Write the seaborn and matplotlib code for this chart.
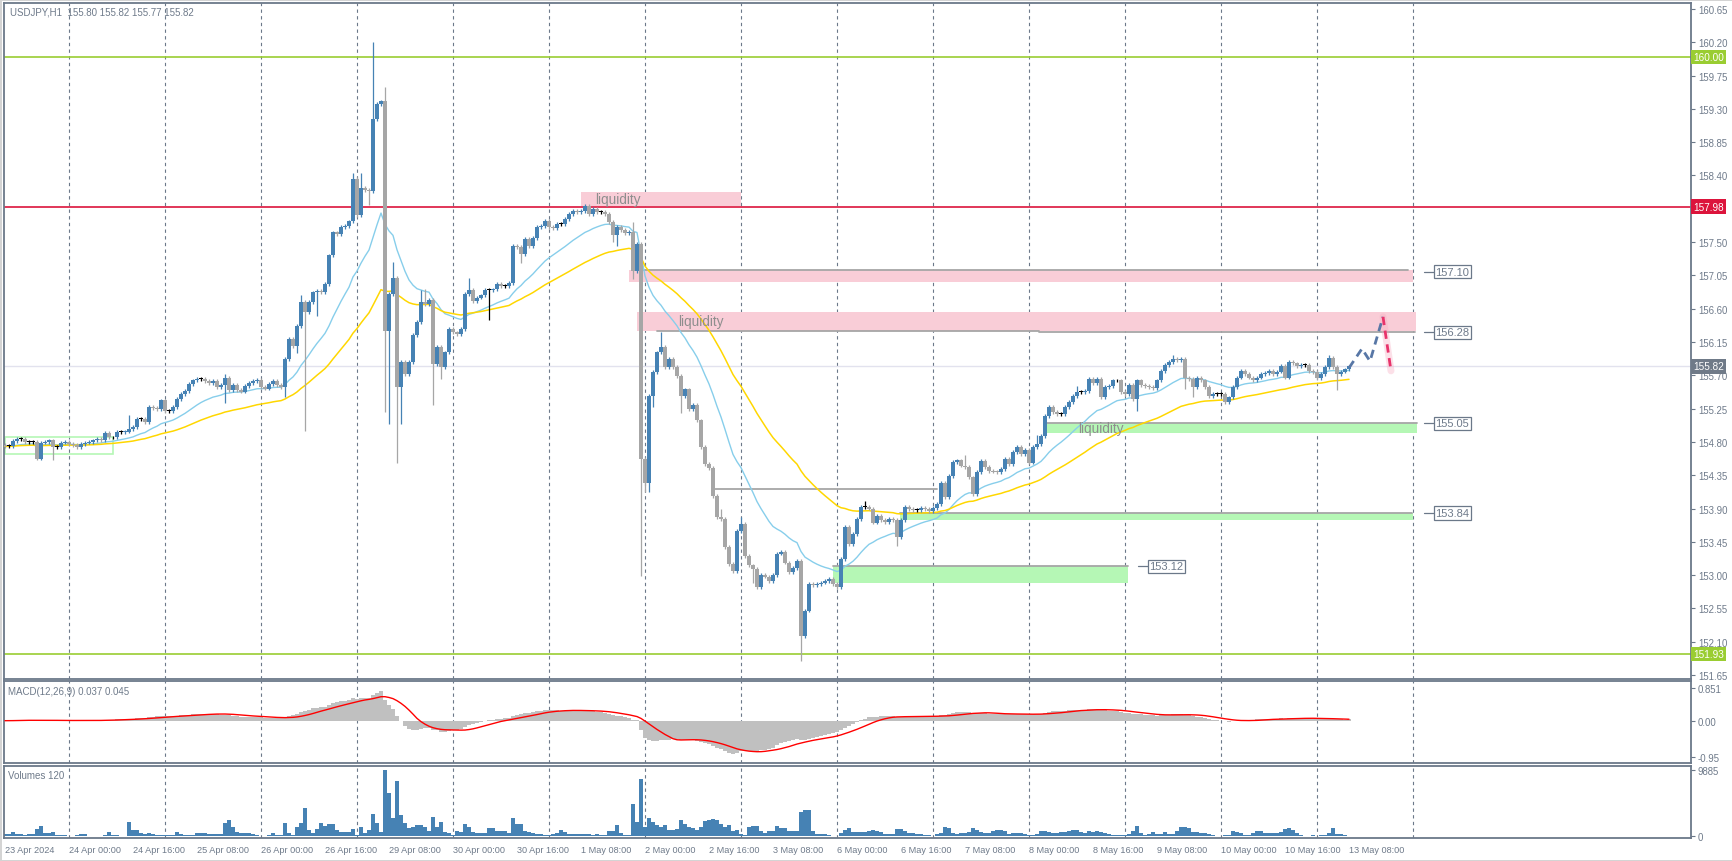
import numpy as np
import pandas as pd
import matplotlib
matplotlib.use("Agg")
import matplotlib.pyplot as plt
import matplotlib.transforms as mtrans
from matplotlib.patches import Rectangle
import seaborn as sns

sns.set_style("white")
plt.rcParams['font.family'] = ['Liberation Sans', 'DejaVu Sans']

# hourly closes USDJPY, 23 Apr 08:00 .. 13 May 08:00
first_open = 154.76
closes = [
    154.74, 154.74, 154.81, 154.84, 154.84, 154.80, 154.80, 154.80, 154.57, 154.79,
    154.80, 154.82, 154.73, 154.73, 154.79, 154.80, 154.77, 154.76, 154.73, 154.77,
    154.79, 154.80, 154.82, 154.84, 154.83, 154.92, 154.86, 154.86, 154.93, 154.93,
    154.94, 154.97, 155.00, 155.11, 155.11, 155.07, 155.27, 155.26, 155.24, 155.36,
    155.22, 155.22, 155.27, 155.38, 155.45, 155.49, 155.58, 155.63, 155.65, 155.65,
    155.62, 155.60, 155.62, 155.54, 155.57, 155.67, 155.50, 155.57, 155.50, 155.48,
    155.56, 155.60, 155.62, 155.64, 155.54, 155.52, 155.58, 155.62, 155.57, 155.54,
    155.92, 156.19, 156.10, 156.37, 156.69, 156.55, 156.69, 156.82, 156.84, 156.82,
    156.93, 157.32, 157.63, 157.61, 157.70, 157.72, 157.78, 158.35, 157.86, 158.23,
    158.20, 158.19, 159.16, 159.37, 159.40, 156.30, 156.80, 157.02, 155.54, 155.88,
    155.72, 155.88, 156.24, 156.42, 156.69, 156.66, 156.72, 155.85, 156.08, 155.81,
    156.01, 156.33, 156.28, 156.26, 156.33, 156.80, 156.85, 156.70, 156.75, 156.78,
    156.85, 156.85, 156.86, 156.93, 156.91, 156.91, 156.95, 157.45, 157.43, 157.34,
    157.54, 157.45, 157.56, 157.70, 157.72, 157.79, 157.70, 157.69, 157.74, 157.74,
    157.81, 157.88, 157.92, 157.90, 157.92, 157.99, 157.88, 157.95, 157.91, 157.91,
    157.88, 157.77, 157.59, 157.70, 157.66, 157.62, 157.64, 157.11, 157.47, 154.57,
    154.25, 155.42, 155.74, 156.01, 156.08, 155.81, 155.92, 155.81, 155.69, 155.42,
    155.51, 155.24, 155.30, 155.09, 154.73, 154.50, 154.45, 154.07, 153.78, 153.76,
    153.38, 153.15, 153.06, 153.60, 153.69, 153.26, 153.13, 153.08, 152.84, 153.00,
    152.98, 152.92, 153.00, 153.29, 153.31, 153.17, 153.04, 153.10, 153.19, 152.18,
    152.52, 152.88, 152.86, 152.88, 152.90, 152.92, 152.95, 152.88, 152.84, 153.22,
    153.65, 153.42, 153.56, 153.76, 153.92, 153.92, 153.90, 153.71, 153.80, 153.74,
    153.72, 153.76, 153.74, 153.51, 153.74, 153.92, 153.89, 153.88, 153.88, 153.91,
    153.89, 153.87, 153.91, 153.96, 154.25, 154.05, 154.34, 154.53, 154.55, 154.48,
    154.46, 154.32, 154.10, 154.39, 154.54, 154.46, 154.41, 154.40, 154.39, 154.43,
    154.57, 154.50, 154.66, 154.73, 154.64, 154.69, 154.52, 154.73, 154.77, 154.88,
    155.15, 155.27, 155.20, 155.18, 155.18, 155.27, 155.34, 155.42, 155.47, 155.47,
    155.49, 155.65, 155.60, 155.65, 155.40, 155.54, 155.56, 155.63, 155.63, 155.47,
    155.45, 155.57, 155.38, 155.63, 155.57, 155.56, 155.54, 155.53, 155.63, 155.76,
    155.84, 155.88, 155.92, 155.90, 155.92, 155.67, 155.65, 155.54, 155.67, 155.63,
    155.54, 155.42, 155.45, 155.45, 155.45, 155.34, 155.40, 155.54, 155.67, 155.76,
    155.72, 155.67, 155.64, 155.67, 155.72, 155.73, 155.76, 155.72, 155.75, 155.83,
    155.67, 155.88, 155.86, 155.83, 155.84, 155.84, 155.76, 155.74, 155.66, 155.72,
    155.81, 155.93, 155.81, 155.72, 155.75, 155.78, 155.82,
]

# long wicks visible on the chart (bar index -> price)
wick_highs = {31: 155.16, 55: 155.72, 74: 156.78, 87: 158.43, 89: 158.43, 92: 160.20,
              95: 159.59, 97: 157.23, 104: 156.85, 105: 156.86, 116: 157.02, 157: 157.77,
              164: 156.28, 179: 153.90, 184: 153.78, 215: 154.00, 240: 154.62, 258: 154.90,
              268: 155.56, 292: 155.97, 331: 155.97}
wick_lows = {8: 154.55, 9: 154.55, 12: 154.56, 55: 155.33, 70: 155.40, 73: 156.00,
             75: 154.95, 78: 156.50, 91: 158.00, 95: 155.20, 96: 155.04, 98: 154.52,
             99: 155.04, 107: 155.30, 109: 155.65, 121: 156.45, 129: 157.22, 152: 157.50,
             153: 157.45, 157: 157.00, 159: 152.99, 160: 154.12, 161: 154.12, 162: 155.27,
             169: 155.19, 187: 152.90, 199: 151.84, 223: 153.40, 283: 155.22, 295: 155.51,
             297: 155.40, 333: 155.50}

volumes = [
    350, 350, 650, 300, 350, 250, 300, 350, 1100, 1550, 500, 450, 650, 250, 250, 150, 100, 100,
    250, 350, 350, 100, 100, 100, 100, 250, 650, 250, 200, 100, 100, 2150, 950, 950, 500, 400,
    450, 300, 250, 250, 200, 150, 200, 650, 300, 200, 200, 200, 500, 500, 500, 300, 300, 300,
    350, 2000, 2450, 1350, 600, 500, 500, 500, 400, 200, 100, 100, 250, 550, 250, 250, 2000, 500,
    250, 1400, 2000, 4250, 950, 550, 1100, 2000, 1600, 1850, 1850, 950, 600, 600, 700, 1100, 250,
    1450, 500, 900, 3350, 2000, 600, 9885, 6500, 2700, 8250, 3250, 2000, 1250, 1350, 1700, 1700,
    1350, 750, 2900, 1350, 2150, 700, 500, 200, 800, 600, 1850, 1450, 650, 500, 500, 550, 1250,
    1250, 800, 800, 800, 500, 2750, 1850, 1850, 800, 600, 450, 400, 300, 200, 200, 400, 500, 950,
    600, 300, 300, 300, 300, 350, 350, 250, 300, 200, 200, 800, 800, 1700, 500, 250, 250, 4850,
    2150, 8600, 1400, 2700, 2100, 1750, 1350, 1750, 950, 950, 1100, 2450, 1850, 1400, 1300, 900,
    1400, 2250, 2450, 2550, 2400, 1850, 1450, 1700, 850, 900, 350, 250, 1450, 1550, 1550, 850,
    500, 750, 750, 1550, 1250, 1250, 800, 800, 800, 3600, 3950, 3850, 750, 350, 350, 350, 250,
    100, 100, 500, 950, 1200, 700, 650, 650, 650, 750, 950, 800, 700, 400, 400, 400, 1050, 1050,
    800, 550, 550, 400, 350, 250, 200, 50, 350, 550, 1400, 1300, 500, 350, 500, 500, 700, 1200,
    1000, 600, 500, 550, 800, 950, 950, 800, 400, 500, 450, 500, 400, 250, 150, 400, 800, 800,
    650, 550, 550, 600, 650, 750, 950, 950, 650, 450, 800, 650, 800, 700, 450, 350, 250, 200,
    250, 200, 300, 750, 1600, 450, 200, 350, 600, 400, 350, 600, 400, 400, 750, 1350, 1350, 1200,
    700, 600, 550, 500, 300, 200, 100, 100, 250, 250, 750, 650, 500, 250, 250, 550, 750, 750,
    500, 500, 500, 500, 650, 1100, 1250, 1000, 500, 250, 100, 100, 150, 100, 250, 250, 450,
    1200, 400, 350, 250, 50,
]

date_ticks = [0, 16, 32, 48, 64, 80, 96, 112, 128, 144, 160, 176, 192, 208, 224, 240, 256,
              272, 288, 304, 320, 336]
date_labels = ["23 Apr 2024", "24 Apr 00:00", "24 Apr 16:00", "25 Apr 08:00", "26 Apr 00:00",
               "26 Apr 16:00", "29 Apr 08:00", "30 Apr 00:00", "30 Apr 16:00", "1 May 08:00",
               "2 May 00:00", "2 May 16:00", "3 May 08:00", "6 May 00:00", "6 May 16:00",
               "7 May 08:00", "8 May 00:00", "8 May 16:00", "9 May 08:00", "10 May 00:00",
               "10 May 16:00", "13 May 08:00"]
day_starts = [16, 40, 64, 88, 112, 136, 160, 184, 208, 232, 256, 280, 304, 328, 352]

price_ticks = [151.65, 152.10, 152.55, 153.00, 153.45, 153.90, 154.35, 154.80, 155.25, 155.70,
               156.15, 156.60, 157.05, 157.50, 157.95, 158.40, 158.85, 159.30, 159.75, 160.20,
               160.65]

# drawn objects
pink = "#F9CDD7"
lgreen = "#B5F7B5"
zones = [  # first bar, last bar, low, high, colour, text, text bar
    (144.0, 184.0, 157.99, 158.18, pink, "liquidity", 147.5),
    (156.0, 352.0, 156.96, 157.12, pink, None, None),
    (158.0, 352.75, 156.30, 156.56, pink, "liquidity", 168.2),
    (260.25, 353.0, 154.92, 155.05, lgreen, "liquidity", 268.2),
    (223.75, 352.0, 153.74, 153.84, lgreen, None, None),
    (207.0, 280.75, 152.89, 153.12, lgreen, None, None),
]
grey_segments = [  # first bar, last bar, price
    (158.75, 350.75, 157.12), (163.0, 258.5, 156.30), (258.5, 352.5, 156.28),
    (260.25, 353.0, 155.05), (223.75, 351.75, 153.84), (207.0, 280.75, 153.12),
    (177.5, 233.0, 154.16),
]
tag_levels = [157.10, 156.28, 155.05, 153.84, 153.12]
tag_bars = [354.75, 354.75, 354.75, 354.75, 283.25]
pred_bars = [336, 339.25, 341.25, 344.5]
pred_prices = [155.80, 156.06, 155.89, 156.49]
drop_bars = [344.5, 346.5]
drop_prices = [156.49, 155.76]

# ---- frame ----
n = len(closes)
df = pd.DataFrame({"bar": np.arange(n), "close": closes, "volume": volumes})
df["open"] = [first_open] + closes[:-1]
df["ema20"] = df["close"].ewm(span=20, adjust=False).mean()
df["ema50"] = df["close"].ewm(span=50, adjust=False).mean()
df["macd"] = (df["close"].ewm(span=12, adjust=False).mean()
              - df["close"].ewm(span=26, adjust=False).mean())
df["signal"] = df["macd"].rolling(9, min_periods=1).mean()

W, H = 1733, 862
fig = plt.figure(figsize=(W / 100, H / 100), dpi=100)
fig.patch.set_edgecolor("#D4D4D4")
fig.patch.set_linewidth(2)


def pax(x0, y0, x1, y1):
    return fig.add_axes([x0 / W, 1 - y1 / H, (x1 - x0) / W, (y1 - y0) / H])


ax = pax(4, 4, 1691, 680)
axm = pax(4, 682, 1691, 764)
axv = pax(4, 767, 1691, 839)

frame = "#6B7889"
txt = "#6E7A8A"
xlo, xhi = -0.25, 421.5
for a in (ax, axm, axv):
    a.set_xlim(xlo, xhi)
    for s in a.spines.values():
        s.set_color(frame)
        s.set_linewidth(1.3)
    a.yaxis.tick_right()
    a.tick_params(axis="y", colors=frame, labelcolor=txt, labelsize=6.9, length=3, pad=2, width=0.8)
    for d in day_starts:
        a.axvline(d, color=frame, lw=0.8, ls=(0, (3, 3)), zorder=0)

# ---- main price panel ----
ax.set_ylim(151.596, 160.731)
ax.set_yticks(price_ticks)
# 157.95 sits under the red 157.98 tag on the original
ax.set_yticklabels(["" if abs(p - 157.95) < 1e-6 else f"{p:.2f}" for p in price_ticks])
ax.set_xticks([])

ax.axhline(160.00, color="#9ACD32", lw=1.2, zorder=1)
ax.axhline(157.98, color="#DC143C", lw=1.2, zorder=1)
ax.axhline(151.93, color="#9ACD32", lw=1.2, zorder=1)
ax.axhline(closes[-1], color="#E2E2EE", lw=1.0, zorder=1)

for x0, x1, lo_, hi_, col_, label, tx in zones:
    ax.add_patch(Rectangle((x0, lo_), x1 - x0, hi_ - lo_, facecolor=col_, edgecolor="none", zorder=1))
    if label:
        ax.text(tx, (lo_ + hi_) / 2, label, color="#8E8E8E", fontsize=9.8,
                va="center", ha="left", zorder=6)
ax.add_patch(Rectangle((0, 154.64), 27, 0.23, facecolor="none", edgecolor=lgreen, lw=1.2, zorder=1))
for x0, x1, p in grey_segments:
    ax.plot([x0, x1], [p, p], color="#A6A6A6", lw=1.3, zorder=2)

for lvl, b in zip(tag_levels, tag_bars):
    ax.plot([b, b + 2.4], [lvl, lvl], color=frame, lw=0.9, zorder=6)
    ax.text(b + 2.8, lvl, f"{lvl:.2f}", fontsize=8, color=txt, va="center", ha="left", zorder=7,
            bbox=dict(boxstyle="square,pad=0.15", facecolor="white", edgecolor=frame, lw=0.9))

# moving averages
sns.lineplot(data=df, x="bar", y="ema20", ax=ax, color="#87CEEB", lw=1.0, zorder=3)
sns.lineplot(data=df, x="bar", y="ema50", ax=ax, color="#FFD700", lw=1.1, zorder=3)

# candles
stub = 0.025
o = df["open"].to_numpy()
c = df["close"].to_numpy()
top = np.maximum(o, c)
bot = np.minimum(o, c)
hi = np.array([wick_highs.get(i, top[i] + stub) for i in range(n)])
lo = np.array([wick_lows.get(i, bot[i] - stub) for i in range(n)])
doji = np.isclose(o, c)
col = np.where(c > o, "#4682B4", "#A6A6A6")
col = np.where(doji, "#000000", col)
ax.vlines(df["bar"], lo, hi, colors=col, lw=0.9, zorder=4)
ax.bar(df["bar"], np.maximum(top - bot, 0.012), bottom=bot, width=np.where(doji, 0.95, 0.78),
       color=col, linewidth=0, zorder=5)

# forecast path
ax.plot(drop_bars, drop_prices, color="#F7A8BF", lw=5, alpha=0.35, zorder=6, solid_capstyle="round")
ax.plot(pred_bars, pred_prices, color="#5877A6", lw=2.0, ls=(0, (3, 2)), zorder=7)
ax.plot(drop_bars, drop_prices, color="#E8336B", lw=2.0, ls=(0, (3, 2)), zorder=7)

ax.text(0.0036, 0.9877, "USDJPY,H1  155.80 155.82 155.77 155.82", transform=ax.transAxes,
        fontsize=7, color=txt, va="center", ha="left")

# right-axis price boxes
tr = mtrans.blended_transform_factory(ax.transAxes, ax.transData)
for lvl, bg in [(160.00, "#9ACD32"), (157.98, "#DC143C"), (closes[-1], "#6F7A88"), (151.93, "#9ACD32")]:
    ax.text(1.0012, lvl, f"{lvl:.2f}", transform=tr, fontsize=7.2, color="white", va="center",
            ha="left", zorder=10, clip_on=False,
            bbox=dict(boxstyle="square,pad=0.22", facecolor=bg, edgecolor="none"))
ax.set_xlabel("")
ax.set_ylabel("")

# ---- MACD panel ----
axm.set_ylim(-1.116, 1.047)
axm.bar(df["bar"], df["macd"], width=0.78, color="#C0C0C0", linewidth=0, zorder=2)
sns.lineplot(data=df, x="bar", y="signal", ax=axm, color="#FF0000", lw=1.0, zorder=3)
axm.set_yticks([0.851, 0.0, -0.95])
axm.set_yticklabels(["0.851", "0.00", "-0.95"])
axm.set_xticks([])
axm.set_xlabel("")
axm.set_ylabel("")
axm.text(0.0024, 0.88, "MACD(12,26,9) 0.037 0.045", transform=axm.transAxes, fontsize=7,
         color=txt, va="center", ha="left")

# ---- volume panel ----
axv.set_ylim(-250, 10480)
axv.bar(df["bar"], df["volume"], width=0.78, color="#4682B4", linewidth=0, zorder=2)
axv.set_yticks([9885, 0])
axv.set_yticklabels(["9885", "0"])
axv.set_xticks(date_ticks)
axv.set_xticklabels(date_labels, ha="left")
axv.tick_params(axis="x", colors=frame, labelcolor=txt, labelsize=6.6, length=3, pad=2, width=0.8)
axv.set_xlabel("")
axv.set_ylabel("")
axv.text(0.0024, 0.875, "Volumes 120", transform=axv.transAxes, fontsize=7,
         color=txt, va="center", ha="left")

fig.savefig("out.png", dpi=100)
